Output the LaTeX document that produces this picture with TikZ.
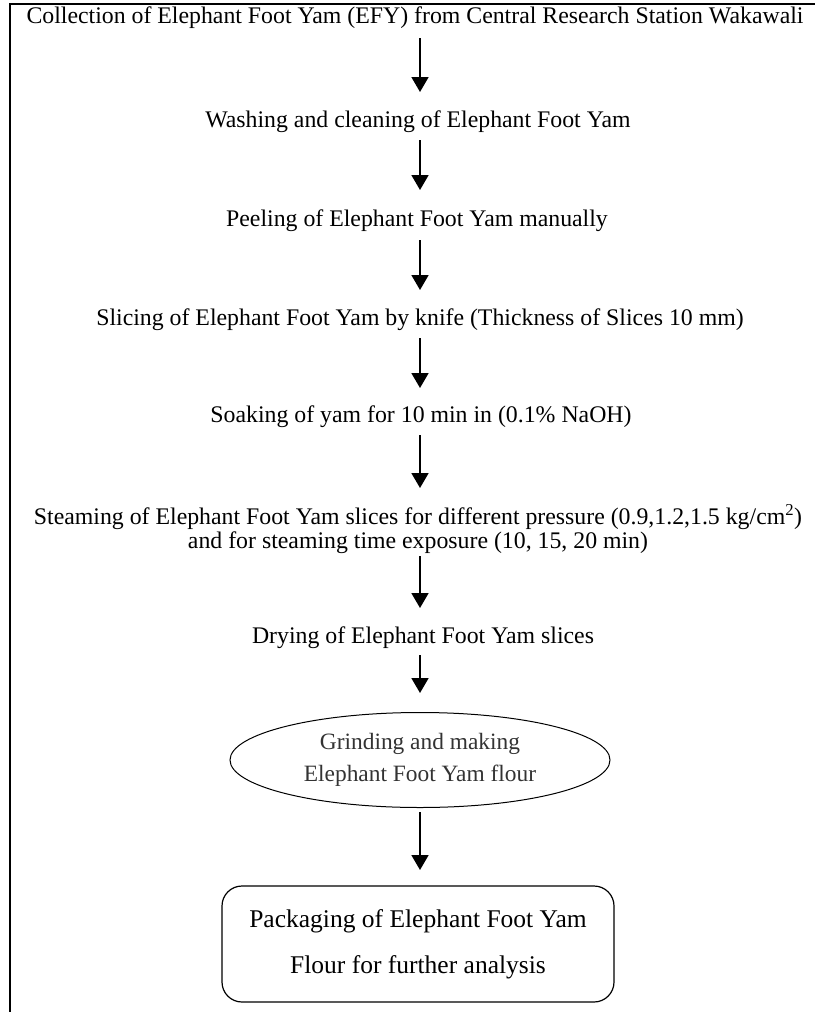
\documentclass[tikz,border=0pt]{standalone}
\usepackage{fontspec}
\setmainfont{Liberation Serif}
\usetikzlibrary{arrows.meta,shapes.geometric}
\tikzset{
  x=1pt,y=-1pt,
  flowarrow/.style={line width=1.8pt,-{Triangle[width=17pt,length=15pt]}},
  steptext/.style={inner sep=0pt,font=\fontsize{23.8}{24}\selectfont,align=center},
  frameline/.style={line width=2pt},
}
\begin{document}
\begin{tikzpicture}
\useasboundingbox (0,0) rectangle (815,1012);
\draw[frameline] (10,1012) -- (10,4) -- (815,4);

\node[steptext] (n1) at (415,18) {Collection of Elephant Foot Yam (EFY) from Central Research Station Wakawali};
\node[steptext] (n2) at (418,122) {Washing and cleaning of Elephant Foot Yam};
\node[steptext] (n3) at (417,221) {Peeling of Elephant Foot Yam manually};
\node[steptext] (n4) at (420,320) {Slicing of Elephant Foot Yam by knife (Thickness of Slices 10 mm)};
\node[steptext] (n5) at (421,417) {Soaking of yam for 10 min in (0.1\% NaOH)};
\node[steptext] (n6) at (418,529) {Steaming of Elephant Foot Yam slices for different pressure (0.9,1.2,1.5 kg/cm\textsuperscript{2})\\and for steaming time exposure (10, 15, 20 min)};
\node[steptext] (n7) at (423,638) {Drying of Elephant Foot Yam slices};
\node[draw,ellipse,line width=1pt,minimum width=380pt,minimum height=95pt,inner sep=0pt,
      font=\fontsize{23.4}{32}\selectfont,align=center,text=black!80] (n8) at (420,760)
      {Grinding and making\\Elephant Foot Yam flour};
\node[draw,rounded corners=20pt,line width=1.2pt,minimum width=392pt,minimum height=116pt,
      inner sep=0pt,font=\fontsize{25.5}{46}\selectfont,align=center] (n9) at (418,944)
      {Packaging of Elephant Foot Yam\\Flour for further analysis};

\coordinate (a1s) at (420,38);  \coordinate (a1e) at (420,92);
\coordinate (a2s) at (420,140); \coordinate (a2e) at (420,190);
\coordinate (a3s) at (420,240); \coordinate (a3e) at (420,290);
\coordinate (a4s) at (420,338); \coordinate (a4e) at (420,388);
\coordinate (a5s) at (420,435); \coordinate (a5e) at (420,488);
\coordinate (a6s) at (420,556); \coordinate (a6e) at (420,608);
\coordinate (a7s) at (420,655); \coordinate (a7e) at (420,693);
\coordinate (a8s) at (420,812); \coordinate (a8e) at (420,870);
\draw[flowarrow] (a1s) -- (a1e);
\draw[flowarrow] (a2s) -- (a2e);
\draw[flowarrow] (a3s) -- (a3e);
\draw[flowarrow] (a4s) -- (a4e);
\draw[flowarrow] (a5s) -- (a5e);
\draw[flowarrow] (a6s) -- (a6e);
\draw[flowarrow] (a7s) -- (a7e);
\draw[flowarrow] (a8s) -- (a8e);
\end{tikzpicture}
\end{document}
